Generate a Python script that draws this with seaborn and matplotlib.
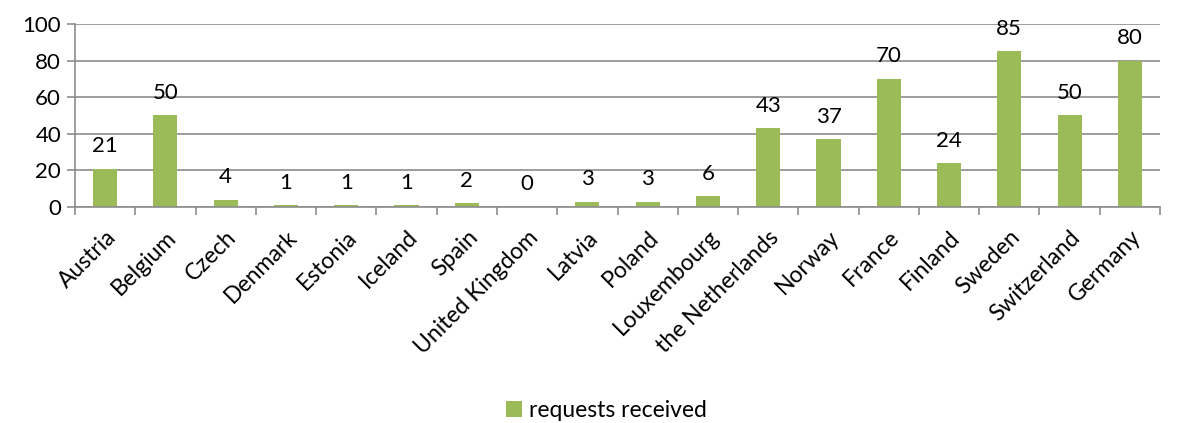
import matplotlib
matplotlib.use("Agg")
import matplotlib.pyplot as plt
import seaborn as sns
import pandas as pd
import numpy as np
from matplotlib.patches import Patch

countries = ["Austria", "Belgium", "Czech", "Denmark", "Estonia", "Iceland", "Spain",
             "United Kingdom", "Latvia", "Poland", "Louxembourg", "the Netherlands",
             "Norway", "France", "Finland", "Sweden", "Switzerland", "Germany"]
requests = [21, 50, 4, 1, 1, 1, 2, 0, 3, 3, 6, 43, 37, 70, 24, 85, 50, 80]
series_name = "requests received"
yticks = [0, 20, 40, 60, 80, 100]

sns.set_theme(style="white")
plt.rcParams['font.family'] = ['Lato', 'DejaVu Sans']

df = pd.DataFrame({"country": countries, "value": requests})

fig = plt.figure(figsize=(11.77, 4.23), dpi=100)
ax = fig.add_axes([75/1177, 1-207/423, (1160-75)/1177, (207-24)/423])

green = "#9BBB59"
sns.barplot(data=df, x="country", y="value", color=green, width=0.40, ax=ax,
            saturation=1, edgecolor="none")

FS = 16
ax.set_ylim(0, 100)
ax.set_xlim(-0.5, len(countries) - 0.5)
ax.set_yticks(yticks)
ax.set_xlabel("")
ax.set_ylabel("")
ax.yaxis.grid(True, color="#8C8C8C", linewidth=1.2)
ax.set_axisbelow(True)
for s in ["top", "right"]:
    ax.spines[s].set_visible(False)
for s in ["left", "bottom"]:
    ax.spines[s].set_color("#8C8C8C")
    ax.spines[s].set_linewidth(1.2)

ax.tick_params(axis="y", which="major", length=6, color="#8C8C8C", width=1.2,
               labelsize=FS, pad=4, left=True, labelcolor="black")
ax.set_xticks(range(len(countries)))
ax.set_xticklabels(countries, rotation=45, ha="right", rotation_mode="anchor",
                   fontsize=16.5, color="black")
ax.tick_params(axis="x", which="major", length=0, pad=14)
ax.set_xticks(np.arange(-0.5, len(countries), 1), minor=True)
ax.tick_params(axis="x", which="minor", length=6, color="#8C8C8C", width=1.2, bottom=True)

for i, v in enumerate(requests):
    ax.annotate(str(v), (i, v), xytext=(0, 9), textcoords="offset points",
                ha="center", va="bottom", fontsize=FS, color="black")

fig.legend(handles=[Patch(facecolor=green, edgecolor="none", label=series_name)],
           loc="lower center", bbox_to_anchor=(0.515, -0.045), frameon=False,
           fontsize=16.5, handlelength=0.7, handleheight=0.7, handletextpad=0.3,
           labelcolor="black")

fig.savefig("out.png", dpi=100)
